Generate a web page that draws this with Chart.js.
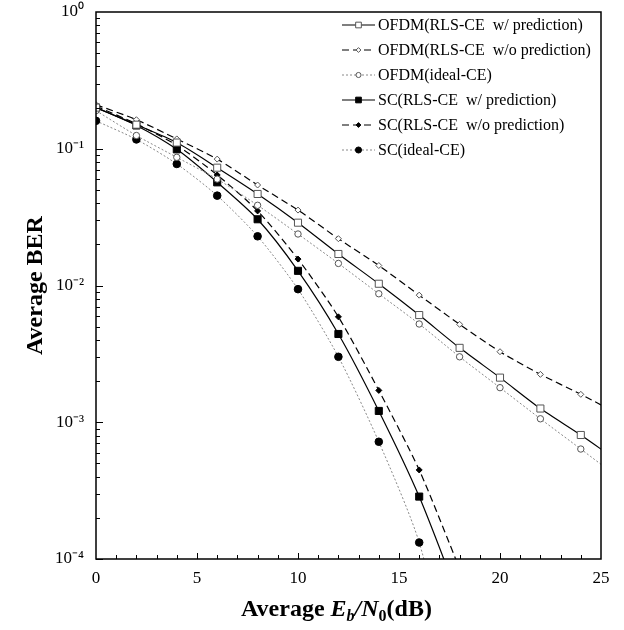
<!DOCTYPE html>
<html>
<head>
<meta charset="utf-8">
<script src="https://cdn.jsdelivr.net/npm/chart.js@4/dist/chart.umd.min.js"></script>
<style>
  html, body { margin: 0; padding: 0; background: #fff; }
  #wrap { width: 624px; height: 630px; }
</style>
</head>
<body>
<div id="wrap"><canvas id="berChart" width="624" height="630"></canvas></div>
<script>
// Eb/N0 (dB) sample points
const snrOfdm = [0, 2, 4, 6, 8, 10, 12, 14, 16, 18, 20, 22, 24, 26];
const snrSc = [0, 2, 4, 6, 8, 10, 12, 14, 16, 18];

// BER values
const ofdmPred   = [0.20, 0.150, 0.111, 0.0727, 0.0467, 0.0288, 0.0170, 0.0103, 0.00608, 0.0035, 0.00212, 0.00126, 0.000807, 0.00050];
const ofdmNoPred = [0.21, 0.163, 0.118, 0.084, 0.0543, 0.0356, 0.0220, 0.0140, 0.0085, 0.0052, 0.00328, 0.00224, 0.00160, 0.00112];
const ofdmIdeal  = [0.19, 0.125, 0.0866, 0.060, 0.0386, 0.0238, 0.0145, 0.0087, 0.00523, 0.00301, 0.00179, 0.00106, 0.000637, 0.00038];
const scPred     = [0.20, 0.148, 0.099, 0.0568, 0.0305, 0.0128, 0.00442, 0.00121, 0.000286, 0.00005];
const scNoPred   = [0.205, 0.152, 0.106, 0.0643, 0.0351, 0.0156, 0.0059, 0.00171, 0.000448, 0.000085];
const scIdeal    = [0.16, 0.117, 0.0774, 0.0454, 0.0229, 0.0094, 0.00301, 0.00072, 0.000132, 0.000008];

const seriesNames = [
  'OFDM(RLS-CE  w/ prediction)',
  'OFDM(RLS-CE  w/o prediction)',
  'OFDM(ideal-CE)',
  'SC(RLS-CE  w/ prediction)',
  'SC(RLS-CE  w/o prediction)',
  'SC(ideal-CE)'
];
const yDecades = [1, 0.1, 0.01, 0.001, 0.0001];
const xTickLabels = [0, 5, 10, 15, 20, 25];

const SERIF = '"Liberation Serif", "Times New Roman", serif';
const toPts = (xs, ys) => ys.map((v, i) => ({ x: xs[i], y: v }));
const sup = { '0': '⁰', '1': '¹', '2': '²', '3': '³', '4': '⁴', '-': '⁻' };

function ds(label, xs, ys, o) {
  return Object.assign({
    label: label,
    data: toPts(xs, ys),
    borderColor: '#000',
    borderWidth: 1.2,
    borderDash: [],
    pointBorderWidth: 1,
    tension: 0.25,
    fill: false
  }, o);
}

const datasets = [
  ds(seriesNames[0], snrOfdm, ofdmPred,   { pointStyle: 'rect',    pointRadius: 5,   pointBackgroundColor: '#fff', pointBorderColor: '#555' }),
  ds(seriesNames[1], snrOfdm, ofdmNoPred, { borderDash: [7, 4], pointStyle: 'rectRot', pointRadius: 3, pointBackgroundColor: '#fff', pointBorderColor: '#555' }),
  ds(seriesNames[2], snrOfdm, ofdmIdeal,  { borderColor: '#888', borderWidth: 1, borderDash: [2, 2], pointStyle: 'circle', pointRadius: 3.2, pointBackgroundColor: '#fff', pointBorderColor: '#555' }),
  ds(seriesNames[3], snrSc, scPred,       { pointStyle: 'rect',    pointRadius: 5,   pointBackgroundColor: '#000', pointBorderColor: '#000' }),
  ds(seriesNames[4], snrSc, scNoPred,     { borderDash: [7, 4], pointStyle: 'rectRot', pointRadius: 3, pointBackgroundColor: '#000', pointBorderColor: '#000' }),
  ds(seriesNames[5], snrSc, scIdeal,      { borderColor: '#888', borderWidth: 1, borderDash: [2, 2], pointStyle: 'circle', pointRadius: 3.8, pointBackgroundColor: '#000', pointBorderColor: '#000' })
];

function marker(ctx, style, x, y, r, fill, stroke) {
  ctx.save();
  ctx.setLineDash([]);
  ctx.beginPath();
  if (style === 'rect') {
    const s = r * Math.SQRT1_2;
    ctx.rect(x - s, y - s, 2 * s, 2 * s);
  } else if (style === 'rectRot') {
    ctx.moveTo(x - r, y); ctx.lineTo(x, y - r); ctx.lineTo(x + r, y); ctx.lineTo(x, y + r); ctx.closePath();
  } else {
    ctx.arc(x, y, r, 0, Math.PI * 2);
  }
  ctx.fillStyle = fill; ctx.fill();
  ctx.lineWidth = 1; ctx.strokeStyle = stroke; ctx.stroke();
  ctx.restore();
}

// frame, inward ticks, titles and legend
const decorations = {
  id: 'decorations',
  afterDraw(chart) {
    const ctx = chart.ctx;
    const a = chart.chartArea;
    const xs = chart.scales.x, ys = chart.scales.y;
    ctx.save();
    ctx.strokeStyle = '#000';
    ctx.lineWidth = 1.5;
    ctx.strokeRect(a.left, a.top, a.right - a.left, a.bottom - a.top);

    ctx.lineWidth = 1;
    ctx.beginPath();
    for (let d = 1; d < 25; d++) {
      const px = Math.round(xs.getPixelForValue(d)) + 0.5;
      const len = d % 5 === 0 ? 6 : 4;
      ctx.moveTo(px, a.bottom); ctx.lineTo(px, a.bottom - len);
    }
    for (let e = -4; e < 0; e++) {
      for (let m = 1; m < 10; m++) {
        const py = Math.round(ys.getPixelForValue(m * Math.pow(10, e))) + 0.5;
        const len = m === 1 ? 7 : 4;
        ctx.moveTo(a.left, py); ctx.lineTo(a.left + len, py);
      }
    }
    ctx.stroke();

    // y title
    ctx.fillStyle = '#000';
    ctx.save();
    ctx.translate(36, (a.top + a.bottom) / 2);
    ctx.rotate(-Math.PI / 2);
    ctx.font = 'bold 24px ' + SERIF;
    ctx.textAlign = 'center';
    ctx.textBaseline = 'middle';
    ctx.fillText('Average BER', 0, 0);
    ctx.restore();

    // x title with italic and subscripts
    const parts = [
      { t: 'Average ', f: 'bold 24px ', dy: 0 },
      { t: 'E', f: 'italic bold 24px ', dy: 0 },
      { t: 'b', f: 'italic bold 16px ', dy: 5 },
      { t: '/', f: 'italic bold 24px ', dy: 0 },
      { t: 'N', f: 'italic bold 24px ', dy: 0 },
      { t: '0', f: 'bold 16px ', dy: 5 },
      { t: '(dB)', f: 'bold 24px ', dy: 0 }
    ];
    let total = 0;
    parts.forEach(p => { ctx.font = p.f + SERIF; p.w = ctx.measureText(p.t).width; total += p.w; });
    let cx = (a.left + a.right) / 2 - 12 - total / 2;
    ctx.textAlign = 'left';
    ctx.textBaseline = 'alphabetic';
    parts.forEach(p => { ctx.font = p.f + SERIF; ctx.fillText(p.t, cx, 616 + p.dy); cx += p.w; });

    // legend
    ctx.font = '16px ' + SERIF;
    ctx.textBaseline = 'middle';
    chart.data.datasets.forEach((d, i) => {
      const y = 25 + 25 * i;
      ctx.save();
      ctx.strokeStyle = d.borderColor;
      ctx.lineWidth = d.borderWidth;
      ctx.setLineDash(d.borderDash);
      ctx.beginPath();
      ctx.moveTo(342, y); ctx.lineTo(375, y);
      ctx.stroke();
      ctx.restore();
      marker(ctx, d.pointStyle, 358.5, y, d.pointRadius * 0.8, d.pointBackgroundColor, d.pointBorderColor);
      ctx.fillStyle = '#000';
      ctx.fillText(d.label, 378, y + 1);
    });
    ctx.restore();
  }
};

// pin the plot box: left 96, right 601, top 12, bottom 559
function noScalePad(s) {
  s.paddingTop = 0; s.paddingBottom = 0; s.paddingLeft = 0; s.paddingRight = 0;
}

new Chart(document.getElementById('berChart'), {
  type: 'line',
  data: { datasets: datasets },
  options: {
    responsive: false,
    animation: false,
    layout: { padding: { top: 12, right: 23, left: 0, bottom: 0 } },
    plugins: { legend: { display: false }, tooltip: { enabled: false } },
    scales: {
      x: {
        type: 'linear',
        min: 0, max: 25,
        grid: { display: false, drawTicks: false },
        border: { display: false },
        afterBuildTicks: s => { s.ticks = xTickLabels.map(v => ({ value: v })); },
        afterFit: s => { s.height = 71; noScalePad(s); },
        ticks: { padding: 9, color: '#000', font: { family: SERIF, size: 17 }, maxRotation: 0 }
      },
      y: {
        type: 'logarithmic',
        min: 0.0001, max: 1,
        grid: { display: false, drawTicks: false },
        border: { display: false },
        afterBuildTicks: s => { s.ticks = yDecades.map(v => ({ value: v })); },
        afterFit: s => { s.width = 96; noScalePad(s); },
        ticks: {
          padding: 12,
          color: '#000',
          font: { family: SERIF, size: 17 },
          callback: v => '10' + String(Math.round(Math.log10(v))).split('').map(c => sup[c]).join('')
        }
      }
    }
  },
  plugins: [decorations]
});
</script>
</body>
</html>
